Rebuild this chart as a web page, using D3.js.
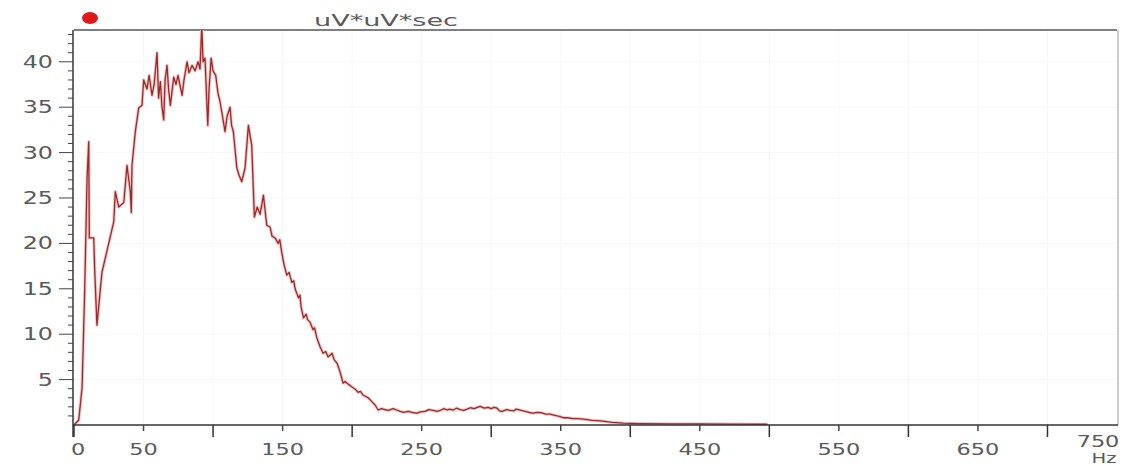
<!DOCTYPE html>
<html>
<head>
<meta charset="utf-8">
<script src="https://cdn.jsdelivr.net/npm/d3@7"></script>
<style>
  body { margin: 0; background: #fff; }
  svg { display: block; }
  text { font-family: "DejaVu Sans", Verdana, sans-serif; fill: #5a5a5a; }
</style>
</head>
<body>
<div id="chart"></div>
<script>
// spectrum (Hz, uV*uV*sec)
var freqHz = [0, 3.4, 5.8, 7.7, 9.4, 10.6, 11.0, 14.2, 14.9, 16.5, 20.1, 28.6, 29.7, 32.2, 35.8,
  38.1, 40.5, 41.2, 41.7, 44.1, 46.5, 48.9, 50.1, 52.5, 54.0, 56.1, 57.6, 59.7, 60.8, 62.1,
  63.3, 64.5, 65.5, 66.9, 68.0, 69.3, 71.7, 73.4, 74.8, 77.7, 79.1, 81.3, 82.7, 84.9, 87.1,
  89.2, 90.6, 91.9, 92.8, 94.2, 96.2, 97.1, 98.6, 100.0, 101.9, 103.6, 105.0, 106.8, 108.6,
  110.1, 112.2, 113.3, 114.6, 117.1, 118.7, 120.6, 123.0, 125.4, 127.8, 129.7, 131.7, 133.8,
  136.2, 138.6, 141.0, 142.4, 144.6, 146.8, 148.0, 149.4, 151.1, 153.0, 154.7, 156.6, 158.0,
  159.0, 161.4, 162.5, 163.3, 165.0, 166.9, 168.0, 169.8, 171.9, 173.0, 174.6, 177.0, 179.1,
  181.0, 182.7, 185.6, 187.0, 189.2, 191.4, 193.5, 195.0, 197.1, 199.0, 200.7, 202.5, 204.3,
  206.0, 207.9, 211.5, 214.0, 216.5, 218.7, 221.0, 223.7, 226.0, 229.5, 232.0, 234.5, 237.0,
  240.3, 244.0, 246.8, 249.0, 252.5, 255.0, 258.3, 261.0, 263.3, 266.0, 268.3, 270.0, 272.7,
  275.0, 277.7, 280.0, 282.7, 285.0, 287.8, 290.0, 292.1, 295.0, 297.8, 300.0, 302.0, 304.3,
  306.0, 307.9, 311.0, 313.7, 316.0, 318.0, 320.9, 323.0, 325.9, 328.0, 330.2, 333.0, 336.0,
  339.0, 342.4, 345.0, 347.5, 349.0, 351.8, 355.0, 359.0, 362.0, 366.2, 369.0, 372.7, 378.4,
  383.0, 387.0, 395.0, 407.0, 428.8, 450.4, 472.0, 498.6];
var power = [0, 0.55, 4.1, 14.9, 27.2, 31.2, 20.6, 20.6, 17, 11, 16.8, 22.4, 25.7, 24, 24.5,
  28.6, 25.7, 23.4, 28.6, 32.3, 34.9, 35.2, 38, 37, 38.5, 36.3, 37.5, 41, 36, 37.8,
  35, 33.6, 38, 39.6, 37, 35.2, 38.3, 37.5, 38.5, 36.3, 38, 40, 38.8, 39.6, 39,
  40, 39.2, 44, 40, 40.4, 33, 37, 40.4, 39, 38.5, 36.5, 35.6, 34, 32.3,
  34, 35, 33, 32.3, 28.3, 27.5, 26.8, 28.3, 33, 30.8, 22.9, 24, 23.2,
  25.3, 22, 21.8, 20.8, 20.6, 20, 20.4, 19, 17.6, 16.5, 16.8, 15.7, 15.9,
  15, 14, 14.3, 13, 11.8, 12.2, 11.6, 11.3, 10.5, 10.7, 9.6, 8.6, 7.9,
  8.1, 7.5, 7.9, 7.2, 6.8, 5.8, 4.6, 4.8, 4.5, 4.3, 4.1, 3.9, 3.6,
  3.7, 3.3, 3, 2.6, 2.2, 1.65, 1.8, 1.7, 1.6, 1.8, 1.65, 1.5, 1.4,
  1.5, 1.35, 1.3, 1.45, 1.5, 1.7, 1.6, 1.5, 1.6, 1.8, 1.65, 1.75, 1.65,
  1.85, 1.7, 1.6, 1.75, 1.9, 1.8, 1.95, 2.05, 1.85, 1.95, 1.8, 1.95, 1.85,
  1.55, 1.5, 1.7, 1.6, 1.55, 1.75, 1.65, 1.55, 1.45, 1.35, 1.3, 1.4, 1.35,
  1.2, 1.2, 1.1, 1.0, 0.95, 0.8, 0.8, 0.7, 0.7, 0.65, 0.6, 0.5, 0.45,
  0.38, 0.3, 0.2, 0.15, 0.12, 0.12, 0.1, 0.08];

var xLabels = [0, 50, 150, 250, 350, 450, 550, 650, 750];
var xLongTicks = [0, 100, 200, 300, 400, 500, 600, 700];
var yLabels = [5, 10, 15, 20, 25, 30, 35, 40];
var unitLabel = "uV*uV*sec";
var freqUnit = "Hz";

var W = 1122, H = 466;
var plotL = 74, plotR = 1117, plotT = 30, plotB = 425;
var stretch = 1.4;

var svg = d3.select("#chart").append("svg").attr("width", W).attr("height", H);
svg.append("rect").attr("width", W).attr("height", H).attr("fill", "#fff");

var x = d3.scaleLinear().domain([0, 750]).range([plotL, plotR]);
var y = d3.scaleLinear().domain([0, 43.5]).range([plotB, plotT]);

// faint grid, barely there in the original
svg.append("g").selectAll("line").data(d3.range(50, 750, 50)).enter().append("line")
  .attr("x1", function(d){ return x(d) }).attr("x2", function(d){ return x(d) })
  .attr("y1", plotT).attr("y2", plotB).attr("stroke", "#f7f7f7");
svg.append("g").selectAll("line").data(yLabels).enter().append("line")
  .attr("x1", plotL).attr("x2", plotR)
  .attr("y1", function(d){ return y(d) }).attr("y2", function(d){ return y(d) })
  .attr("stroke", "#f7f7f7");

// frame
svg.append("line").attr("x1", plotL).attr("x2", plotR).attr("y1", plotT).attr("y2", plotT)
  .attr("stroke", "#555").attr("stroke-width", 1.5);
svg.append("line").attr("x1", plotR + 1).attr("x2", plotR + 1).attr("y1", plotT).attr("y2", plotB)
  .attr("stroke", "#999");

// spectrum line
svg.append("clipPath").attr("id", "plot").append("rect")
  .attr("x", plotL).attr("y", plotT).attr("width", plotR - plotL).attr("height", plotB - plotT);
var line = d3.line().x(function(d){ return x(d[0]) }).y(function(d){ return y(d[1]) });
var pts = freqHz.map(function(f, i){ return [f, power[i]] });
svg.append("path").datum(pts).attr("clip-path", "url(#plot)")
  .attr("d", line).attr("fill", "none")
  .attr("stroke", "#f4c4c4").attr("stroke-width", 3.2).attr("stroke-linejoin", "round");
svg.append("path").datum(pts).attr("clip-path", "url(#plot)")
  .attr("d", line).attr("fill", "none")
  .attr("stroke", "#9a2a2a").attr("stroke-width", 1.3).attr("stroke-linejoin", "round");

// y axis with minor ticks every 1
var yAxis = svg.append("g");
yAxis.append("line").attr("x1", plotL - 1).attr("x2", plotL - 1).attr("y1", plotT).attr("y2", plotB + 12)
  .attr("stroke", "#333").attr("stroke-width", 1.5);
yAxis.selectAll(".minor").data(d3.range(1, 44)).enter().append("line")
  .attr("x1", function(d){ return d % 5 == 0 ? plotL - 15 : plotL - 6 })
  .attr("x2", plotL - 1)
  .attr("y1", function(d){ return y(d) }).attr("y2", function(d){ return y(d) })
  .attr("stroke", "#444");
yAxis.selectAll("g.lab").data(yLabels).enter().append("g")
  .attr("transform", function(d){ return "translate(53," + (y(d) + 6) + ") scale(" + stretch + ",1)" })
  .append("text").attr("text-anchor", "end").attr("font-size", 17).text(function(d){ return d });

// x axis
var xAxis = svg.append("g");
xAxis.append("line").attr("x1", plotL - 1).attr("x2", plotR + 1).attr("y1", plotB).attr("y2", plotB)
  .attr("stroke", "#333").attr("stroke-width", 1.5);
xAxis.selectAll(".long").data(xLongTicks).enter().append("line")
  .attr("x1", function(d){ return x(d) }).attr("x2", function(d){ return x(d) })
  .attr("y1", plotB).attr("y2", plotB + 12).attr("stroke", "#333").attr("stroke-width", 1.5);
xAxis.selectAll(".short").data(xLabels.filter(function(d){ return d > 0 && d < 750 })).enter().append("line")
  .attr("x1", function(d){ return x(d) }).attr("x2", function(d){ return x(d) })
  .attr("y1", plotB).attr("y2", plotB + 6).attr("stroke", "#444").attr("stroke-width", 1.5);
xAxis.selectAll("g.lab").data(xLabels).enter().append("g")
  .attr("transform", function(d){
    var px = d == 0 ? x(d) + 4 : (d == 750 ? x(d) - 19 : x(d));
    var py = d == 750 ? 447 : 455;
    return "translate(" + px + "," + py + ") scale(" + stretch + ",1)";
  })
  .append("text").attr("text-anchor", "middle").attr("font-size", 16).text(function(d){ return d });
svg.append("g").attr("transform", "translate(1104,463) scale(" + stretch + ",1)")
  .append("text").attr("text-anchor", "middle").attr("font-size", 14).text(freqUnit);

// legend dot and unit
svg.append("ellipse").attr("cx", 90).attr("cy", 18).attr("rx", 8).attr("ry", 6).attr("fill", "#e01818");
svg.append("text").attr("x", 314).attr("y", 26).attr("font-size", 16)
  .attr("textLength", 144).attr("lengthAdjust", "spacingAndGlyphs").text(unitLabel);
</script>
</body>
</html>
